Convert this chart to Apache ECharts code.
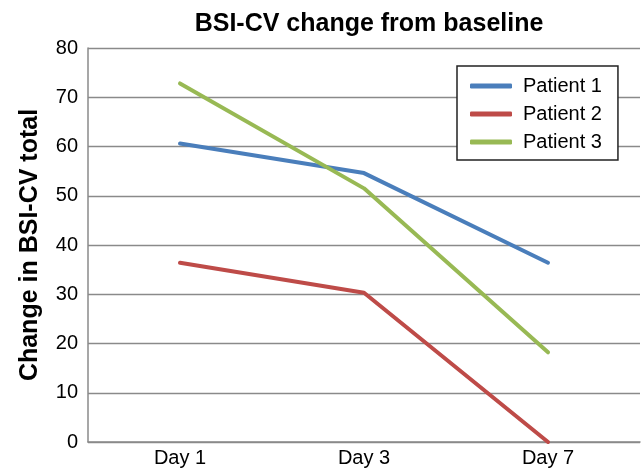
<!DOCTYPE html>
<html>
<head>
<meta charset="utf-8">
<script src="https://cdn.jsdelivr.net/npm/echarts@6/dist/echarts.min.js"></script>
<style>
    html, body { margin: 0; padding: 0; background: #fff; }
    #chart { width: 641px; height: 474px; }
</style>
</head>
<body>
<div id="chart"></div>
<script>
// data
var days = ['Day 1', 'Day 3', 'Day 7'];
var patient1 = [60.6, 54.6, 36.4];
var patient2 = [36.4, 30.3, 0];
var patient3 = [72.8, 51.5, 18.2];
var yTicks = [0, 10, 20, 30, 40, 50, 60, 70, 80];

var gridGray = '#8a8a8a';
var font = 'Liberation Sans, Arial, sans-serif';

function lineSeries(name, values, color) {
    return {
        name: name,
        type: 'line',
        data: values,
        symbol: 'none',
        lineStyle: { width: 4, color: color, cap: 'round', join: 'round' },
        itemStyle: { color: color }
    };
}

var chart = echarts.init(document.getElementById('chart'));
chart.setOption({
    animation: false,
    textStyle: { fontFamily: font, color: '#000' },
    title: {
        text: 'BSI-CV change from baseline',
        left: 364,
        textAlign: 'center',
        top: 7,
        textStyle: { fontFamily: font, fontSize: 25, fontWeight: 'bold', color: '#000' }
    },
    legend: {
        orient: 'vertical',
        left: 457,
        top: 66,
        padding: [10, 16, 8, 13],
        itemGap: 8,
        itemWidth: 42,
        itemHeight: 5,
        icon: 'roundRect',
        borderColor: '#222',
        borderWidth: 1.5,
        backgroundColor: '#fff',
        textStyle: { fontFamily: font, fontSize: 20, color: '#000', padding: [0, 0, 0, 6] },
        data: ['Patient 1', 'Patient 2', 'Patient 3']
    },
    grid: { left: 88, right: 1, top: 48, bottom: 32, containLabel: false },
    xAxis: {
        type: 'category',
        data: days,
        boundaryGap: true,
        axisLine: { lineStyle: { color: gridGray, width: 1.5 } },
        axisTick: { show: false },
        axisLabel: { fontFamily: font, fontSize: 20, color: '#000', margin: 6 }
    },
    yAxis: {
        type: 'value',
        min: yTicks[0],
        max: yTicks[yTicks.length - 1],
        interval: yTicks[1] - yTicks[0],
        name: 'Change in BSI-CV total',
        nameLocation: 'middle',
        nameGap: 45,
        nameTextStyle: { fontFamily: font, fontSize: 25, fontWeight: 'bold', color: '#000' },
        axisLine: { show: true, lineStyle: { color: gridGray, width: 1.5 } },
        axisTick: { show: false },
        axisLabel: { fontFamily: font, fontSize: 20, color: '#000', margin: 10 },
        splitLine: { lineStyle: { color: gridGray, width: 1.3 } }
    },
    series: [
        lineSeries('Patient 1', patient1, '#4a7ebb'),
        lineSeries('Patient 2', patient2, '#be4b48'),
        lineSeries('Patient 3', patient3, '#98b954')
    ]
});
</script>
</body>
</html>
